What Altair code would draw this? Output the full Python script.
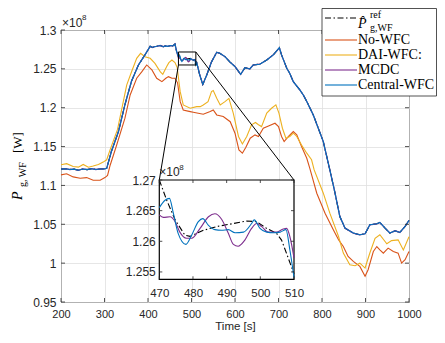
import altair as alt
import pandas as pd

# ---------------- data (power in units of 1e8 W) ----------------
series_names = ["ref", "No-WFC", "DAI-WFC:", "MCDC", "Central-WFC"]
series_colors = ["#000000", "#D95319", "#EDB120", "#7E2F8E", "#0072BD"]

# Central-WFC (main window, outside the zoomed 470-510 s window)
t_central = [200, 210, 220, 230, 240, 250, 260, 270, 280, 290, 300, 305, 316, 332, 347, 362, 378, 393,
             405, 410, 415, 420, 428, 435, 440, 446, 451, 457, 462, 466,
             512, 519, 526, 535, 546, 558, 565, 577, 588, 600, 613, 623, 634, 642, 657, 673, 688, 702,
             707, 719, 726, 734, 749, 757, 765, 780, 803, 818, 830, 841, 853, 872, 887, 899, 910, 926,
             933, 945, 956, 968, 979, 991, 1000]
p_central = [1.121, 1.1215, 1.1205, 1.121, 1.1195, 1.1212, 1.1203, 1.1215, 1.1205, 1.1212, 1.1213, 1.122,
             1.144, 1.169, 1.204, 1.234, 1.255, 1.268,
             1.279, 1.2775, 1.2785, 1.279, 1.280, 1.2785, 1.2795, 1.279, 1.280, 1.2795, 1.282, 1.272,
             1.258, 1.242, 1.230, 1.242, 1.259, 1.2713, 1.270, 1.2657, 1.259, 1.253, 1.243, 1.2515,
             1.2499, 1.255, 1.256, 1.2614, 1.268, 1.2772,
             1.268, 1.2508, 1.244, 1.2336, 1.2229, 1.2164, 1.208, 1.1907, 1.1564, 1.120, 1.090, 1.060,
             1.045, 1.0387, 1.0365, 1.0378, 1.0494, 1.0506,
             1.0523, 1.045, 1.0387, 1.0416, 1.0395, 1.0472, 1.055]

# zoomed window 470-510 s
t_central_zoom = [470, 471.7, 473, 474.2, 475.6, 477.9, 479.6, 481.6, 482.9, 484.6, 486.5, 488.5, 490.5,
                  492.5, 495, 497.4, 498.2, 499.9, 501.9, 503.9, 505.9, 507.6, 508.8, 510]
p_central_zoom = [1.2655, 1.2667, 1.267, 1.2645, 1.2613, 1.2595, 1.261, 1.2632, 1.2637, 1.2626, 1.2619,
                  1.2618, 1.2619, 1.2614, 1.2615, 1.2629, 1.2635, 1.2621, 1.2615, 1.2614, 1.2615, 1.2619,
                  1.2585, 1.2541]

t_mcdc_zoom = [470, 471.2, 473.2, 474.7, 476.1, 478.1, 479.6, 482.1, 484.6, 486.5, 488.5, 490.5, 492,
               493.4, 495.4, 497.4, 498.9, 500.4, 502.4, 504.8, 506.8, 507.8, 508.8, 510]
p_mcdc_zoom = [1.2643, 1.2639, 1.264, 1.2632, 1.2615, 1.2605, 1.2605, 1.2621, 1.264, 1.2645, 1.2636,
               1.2613, 1.2595, 1.2592, 1.2602, 1.2621, 1.2629, 1.2624, 1.2615, 1.2615, 1.262, 1.2621,
               1.2607, 1.2573]

t_ref_zoom = [470, 472.2, 474.7, 477.6, 479.1, 483.1, 487, 492, 495.9, 498.9, 501.9, 504.8, 506.3, 507.8, 510]
p_ref_zoom = [1.27, 1.2667, 1.2635, 1.261, 1.2608, 1.2618, 1.2624, 1.2629, 1.2633, 1.2632, 1.2621,
              1.2613, 1.2602, 1.258, 1.2547]

# DAI-WFC
t_dai = [200, 213, 228, 240, 251, 263, 274, 286, 297, 305, 313, 330, 351, 362, 374, 383, 393, 405, 416, 428,
         434, 443, 448, 455, 462, 467, 474, 481, 497, 512, 520, 527, 538, 546, 550, 558, 566, 577, 586, 596,
         608, 617, 627, 638, 647, 654, 661, 673, 684, 694, 701, 709, 717, 726, 734, 742, 753, 765, 776, 782,
         803, 818, 838, 849, 864, 876, 887, 899, 910, 922, 933, 949, 960, 975, 987, 1000]
p_dai = [1.1265, 1.128, 1.1244, 1.1235, 1.127, 1.1235, 1.125, 1.127, 1.130, 1.133,
         1.146, 1.172, 1.229, 1.246, 1.2636, 1.270, 1.2657, 1.2636, 1.257, 1.2464,
         1.243, 1.253, 1.258, 1.2614, 1.258, 1.252, 1.2207, 1.2036, 1.1993, 1.2014,
         1.2014, 1.2036, 1.2078, 1.2207, 1.222, 1.2122, 1.2036, 1.2078, 1.212, 1.193,
         1.163, 1.1534, 1.163, 1.178, 1.181, 1.178, 1.1757, 1.193, 1.1993, 1.2036,
         1.193, 1.1736, 1.1608, 1.163, 1.1672, 1.163, 1.152, 1.1415, 1.133, 1.12,
         1.09, 1.0643, 1.0343, 1.0129, 0.998, 0.9967, 1.0, 0.9937, 1.013, 1.032,
         1.0365, 1.025, 1.029, 1.03, 1.017, 1.034]

# No-WFC
t_no = [200, 213, 228, 244, 259, 274, 290, 301, 307, 313, 328, 347, 359, 374, 386, 397, 409, 420, 432, 441,
        447, 455, 462, 468, 474, 481, 497, 504, 527, 543, 550, 558, 573, 589, 600, 609, 617, 625, 635, 646,
        654, 665, 677, 692, 700, 707, 713, 723, 734, 742, 753, 765, 772, 788, 807, 826, 838, 849, 860, 872,
        887, 899, 906, 918, 926, 933, 941, 952, 964, 975, 983, 991, 1000]
p_no = [1.1136, 1.115, 1.111, 1.1093, 1.1101, 1.1067, 1.1067, 1.1101, 1.113, 1.126,
        1.152, 1.1865, 1.2164, 1.2379, 1.2464, 1.255, 1.2486, 1.2379, 1.2336, 1.2379,
        1.24, 1.2379, 1.2379, 1.232, 1.2078, 1.197, 1.195, 1.1942, 1.1916, 1.195,
        1.197, 1.1907, 1.1886, 1.182, 1.1672, 1.1457, 1.1415, 1.149, 1.1608, 1.165,
        1.163, 1.1736, 1.1766, 1.18, 1.1757, 1.163, 1.1564, 1.163, 1.1693, 1.165,
        1.15, 1.135, 1.122, 1.09, 1.0643, 1.043, 1.03, 1.0214, 1.0086, 1.0022,
        0.9958, 0.983, 0.9915, 1.015, 1.0214, 1.0172, 1.0129, 1.0193, 1.015, 1.0129,
        1.0001, 1.0044, 1.015]

x_ticks = [200, 300, 400, 500, 600, 700, 800, 900, 1000]
y_ticks = [0.95, 1.0, 1.05, 1.1, 1.15, 1.2, 1.25, 1.3]
zx_ticks = [470, 480, 490, 500, 510]
zy_ticks = [1.255, 1.26, 1.265, 1.27]
x_domain = [200, 1000]
y_domain = [0.95, 1.3]
zx_domain = [470, 510]
zy_domain = [1.2538, 1.27]
zoom_box_y = [1.255, 1.2717]

# ---------------- layout ----------------
W, H = 348, 272
ZX_RANGE = [98.3, 233.0]
ZY_RANGE = [249.3, 150.0]
FONT = "Liberation Sans"
SERIF = "Liberation Serif"
LBL = "#262626"


def frame(ts, ps):
    return pd.DataFrame({"t": ts, "p": ps}).sort_values("t")


def merge(t_out, p_out, t_in, p_in):
    ts = [t for t in t_out if t < zx_domain[0] or t > zx_domain[1]] + list(t_in)
    ps = [p for t, p in zip(t_out, p_out) if t < zx_domain[0] or t > zx_domain[1]] + list(p_in)
    return frame(ts, ps)


main_data = {
    "ref": merge(t_central, p_central, t_ref_zoom, p_ref_zoom),
    "No-WFC": frame(t_no, p_no),
    "DAI-WFC:": frame(t_dai, p_dai),
    "MCDC": merge(t_central, p_central, t_mcdc_zoom, p_mcdc_zoom),
    "Central-WFC": merge(t_central, p_central, t_central_zoom, p_central_zoom),
}
zoom_data = {
    "ref": frame(t_ref_zoom, p_ref_zoom),
    "MCDC": frame(t_mcdc_zoom, p_mcdc_zoom),
    "Central-WFC": frame(t_central_zoom, p_central_zoom),
}
color_of = dict(zip(series_names, series_colors))
DASH = [6, 2.5, 1.5, 2.5]

xs = alt.Scale(domain=x_domain, nice=False, zero=False)
ys = alt.Scale(domain=y_domain, nice=False, zero=False)
xax = alt.Axis(values=x_ticks, grid=True, ticks=False, domain=False, labelPadding=6, labelFlush=False,
               labelFontSize=11, title="Time [s]", titleY=27.5, titleFontSize=11.5,
               titleBaseline="alphabetic", format="d")
yax = alt.Axis(values=y_ticks, grid=True, ticks=False, domain=False, labelPadding=5, labelFlush=False,
               title=None, format=".3~g")

zxs = alt.Scale(domain=zx_domain, range=ZX_RANGE, nice=False, zero=False)
zys = alt.Scale(domain=zy_domain, range=ZY_RANGE, nice=False, zero=False)
zxax = alt.Axis(values=zx_ticks, orient="bottom", offset=-(H - ZY_RANGE[0]), grid=False, ticks=False,
                domain=False, labelPadding=8, labelFlush=False, labelFontSize=11.5, title=None,
                format="d", zindex=2)
zyax = alt.Axis(values=zy_ticks, orient="left", offset=-ZX_RANGE[0], grid=False, ticks=False,
                domain=False, labelPadding=4, labelFlush=False, title=None, format=".4~g", zindex=2)

one = pd.DataFrame({"k": [0]})

# ---------------- main panel ----------------
main_layers = []
for name in series_names:
    kw = dict(color=color_of[name], strokeWidth=1.1)
    if name == "ref":
        kw["strokeDash"] = DASH
    if name == "MCDC":
        kw["strokeWidth"] = 1.3
    main_layers.append(
        alt.Chart(main_data[name]).mark_line(**kw).encode(
            x=alt.X("t:Q", scale=xs, axis=xax), y=alt.Y("p:Q", scale=ys, axis=yax))
    )

xt = pd.DataFrame({"v": x_ticks})
yt = pd.DataFrame({"v": y_ticks})
for y0, y1 in [(H, H - 4), (0, 4)]:
    main_layers.append(alt.Chart(xt).mark_rule(color="#262626", strokeWidth=0.8).encode(
        x=alt.X("v:Q", scale=xs, axis=xax), y=alt.value(y0), y2=alt.value(y1)))
for x0, x1 in [(0, 4), (W, W - 4)]:
    main_layers.append(alt.Chart(yt).mark_rule(color="#262626", strokeWidth=0.8).encode(
        y=alt.Y("v:Q", scale=ys, axis=yax), x=alt.value(x0), x2=alt.value(x1)))

# zoom box in main panel
box = pd.DataFrame({"x0": [zx_domain[0]], "x1": [zx_domain[1]], "y0": [zoom_box_y[0]], "y1": [zoom_box_y[1]]})
main_layers.append(alt.Chart(box).mark_rect(fillOpacity=0, stroke="black", strokeWidth=1).encode(
    x=alt.X("x0:Q", scale=xs, axis=xax), x2="x1:Q", y=alt.Y("y0:Q", scale=ys, axis=yax), y2="y1:Q"))


# connector lines from zoom box to inset corners (inset corners expressed in main coordinates)
def px_to_t(px):
    return x_domain[0] + px / W * (x_domain[1] - x_domain[0])


def px_to_p(py):
    return y_domain[1] - py / H * (y_domain[1] - y_domain[0])


conn = pd.DataFrame({
    "x0": [zx_domain[0], zx_domain[1]],
    "y0": [zoom_box_y[0], zoom_box_y[1]],
    "x1": [px_to_t(ZX_RANGE[0]), px_to_t(ZX_RANGE[1])],
    "y1": [px_to_p(ZY_RANGE[1]), px_to_p(ZY_RANGE[1])],
})
main_layers.append(alt.Chart(conn).mark_rule(color="black", strokeWidth=1).encode(
    x=alt.X("x0:Q", scale=xs, axis=xax), y=alt.Y("y0:Q", scale=ys, axis=yax), x2="x1:Q", y2="y1:Q"))


def txt(s, x, y, size=12, font=FONT, align="left", style="normal", angle=0, color=LBL, baseline="alphabetic"):
    kw = dict(text=s, align=align, baseline=baseline, font=font, fontSize=size, fontStyle=style, color=color)
    if angle:
        kw["angle"] = angle
    return alt.Chart(one).mark_text(**kw).encode(x=alt.value(x), y=alt.value(y))


# exponent labels and y title
main_layers += [
    txt("×10", 1, -3),
    txt("8", 21, -10, size=8),
    txt("P", -39, 170, size=14, font=SERIF, style="italic", angle=270, color="black"),
    txt("g, WF", -35, 157, size=10, font=SERIF, angle=270, color="black"),
    txt("[W]", -39, 123, size=13, font=SERIF, angle=270, color="black"),
]

# ---------------- inset panel ----------------
inset_layers = []
ibox = pd.DataFrame({"x0": [zx_domain[0]], "x1": [zx_domain[1]], "y0": [zy_domain[0]], "y1": [zy_domain[1]]})
inset_layers.append(alt.Chart(ibox).mark_rect(fill="white", stroke="black", strokeWidth=1.2).encode(
    x=alt.X("x0:Q", scale=zxs, axis=zxax), x2="x1:Q", y=alt.Y("y0:Q", scale=zys, axis=zyax), y2="y1:Q"))
for name in ["ref", "MCDC", "Central-WFC"]:
    kw = dict(color=color_of[name], strokeWidth=1.1)
    if name == "ref":
        kw["strokeDash"] = DASH
    else:
        kw["interpolate"] = "monotone"
    inset_layers.append(alt.Chart(zoom_data[name]).mark_line(**kw).encode(
        x=alt.X("t:Q", scale=zxs, axis=zxax), y=alt.Y("p:Q", scale=zys, axis=zyax)))
zxt = pd.DataFrame({"v": zx_ticks})
zyt = pd.DataFrame({"v": zy_ticks})
for y0, y1 in [(ZY_RANGE[0], ZY_RANGE[0] - 3), (ZY_RANGE[1], ZY_RANGE[1] + 3)]:
    inset_layers.append(alt.Chart(zxt).mark_rule(color="#262626", strokeWidth=0.8).encode(
        x=alt.X("v:Q", scale=zxs, axis=zxax), y=alt.value(y0), y2=alt.value(y1)))
for x0, x1 in [(ZX_RANGE[0], ZX_RANGE[0] + 3), (ZX_RANGE[1], ZX_RANGE[1] - 3)]:
    inset_layers.append(alt.Chart(zyt).mark_rule(color="#262626", strokeWidth=0.8).encode(
        y=alt.Y("v:Q", scale=zys, axis=zyax), x=alt.value(x0), x2=alt.value(x1)))
inset_layers += [
    txt("×10", ZX_RANGE[0], ZY_RANGE[1] - 4),
    txt("8", ZX_RANGE[0] + 20, ZY_RANGE[1] - 10, size=8),
]

# ---------------- legend ----------------
LX0, LX1, LY0, LY1 = 261.0, 375.5, -21.5, 66
leg = [alt.Chart(one).mark_rect(fill="white", stroke="#262626", strokeWidth=0.8).encode(
    x=alt.value(LX0), x2=alt.value(LX1), y=alt.value(LY0), y2=alt.value(LY1))]
entry_y = [-12, 10, 25, 40, 55]
for name, col, yy in zip(series_names, series_colors, entry_y):
    kw = dict(color=col, strokeWidth=1.1)
    if name == "ref":
        kw["strokeDash"] = DASH
    leg.append(alt.Chart(one).mark_rule(**kw).encode(
        x=alt.value(LX0 + 3), x2=alt.value(LX0 + 35), y=alt.value(yy)))
    if name != "ref":
        leg.append(txt(name, LX0 + 36, yy, size=14, font=SERIF, color="black", baseline="middle"))
leg += [
    txt("P\u0302", LX0 + 36, -2, size=14, font=SERIF, style="italic", color="black"),
    txt("ref", LX0 + 48, -12, size=10, font=SERIF, color="black"),
    txt("g,WF", LX0 + 48, 1, size=10, font=SERIF, color="black"),
]

main = alt.layer(*main_layers)
inset = alt.layer(*inset_layers)
legend = alt.layer(*leg)

chart = alt.layer(main, inset, legend).resolve_scale(
    x="independent", y="independent"
).properties(
    width=W, height=H,
    padding={"left": 53, "top": 22, "right": 28, "bottom": 30},
    autosize=alt.AutoSizeParams(type="none"),
).configure_view(
    stroke="black", strokeWidth=1
).configure_axis(
    labelFont=FONT, labelFontSize=12, labelColor=LBL, titleFont=FONT, titleFontSize=12,
    titleColor=LBL, titleFontWeight="normal", gridColor="#e0e0e0", gridWidth=0.8,
)

chart.save("out.html", embed_options={"renderer": "svg", "actions": False})
